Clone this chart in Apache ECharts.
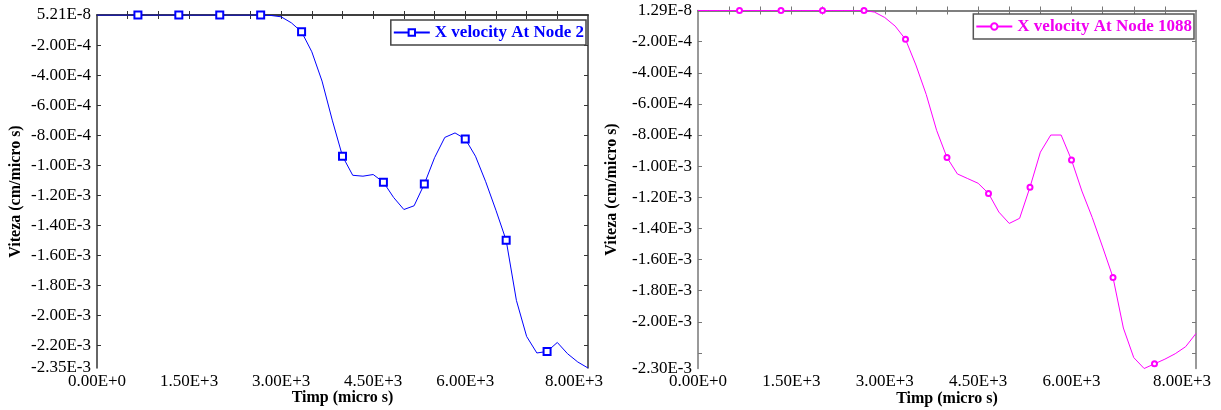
<!DOCTYPE html>
<html>
<head>
<meta charset="utf-8">
<title>X velocity</title>
<script src="https://cdn.jsdelivr.net/npm/echarts@6.0.0/dist/echarts.min.js"></script>
<style>
  html, body { margin: 0; padding: 0; background: #fff; }
  #main { width: 1221px; height: 410px; }
</style>
</head>
<body>
<div id="main"></div>
<script>
// time samples (micro s)
var times = [0, 166.7, 333.3, 500, 666.7, 833.3, 1000, 1166.7, 1333.3, 1500, 1666.7, 1833.3,
  2000, 2166.7, 2333.3, 2500, 2666.7, 2833.3, 3000, 3166.7, 3333.3, 3500, 3666.7, 3833.3,
  4000, 4166.7, 4333.3, 4500, 4666.7, 4833.3, 5000, 5166.7, 5333.3, 5500, 5666.7, 5833.3,
  6000, 6166.7, 6333.3, 6500, 6666.7, 6833.3, 7000, 7166.7, 7333.3, 7500, 7666.7, 7833.3, 8000];

// samples drawn with a marker
var markerTimes = [666.7, 1333.3, 2000, 2666.7, 3333.3, 4000, 4666.7, 5333.3, 6000, 6666.7, 7333.3];

// X velocity at node 2 (cm/micro s)
var velNode2 = [5.21e-8, 5.21e-8, 5.21e-8, 5.21e-8, 5.21e-8, 5.21e-8, 5.21e-8, 5.21e-8, 5.21e-8,
  5.21e-8, 5.21e-8, 5.21e-8, 5.21e-8, 5.21e-8, 5.21e-8, 5.21e-8, 5.21e-8,
  -0.000003, -0.000012, -0.000052, -0.000112, -0.000245, -0.00044, -0.0007,
  -0.00094, -0.001067, -0.001073, -0.001062, -0.001113, -0.001215, -0.001295, -0.00127,
  -0.001125, -0.00095, -0.000815, -0.000785, -0.000825, -0.00094, -0.00111, -0.0013,
  -0.0015, -0.0019, -0.00214, -0.00225, -0.00224, -0.00218, -0.002255, -0.00231, -0.00235];

// X velocity at node 1088 (cm/micro s)
var velNode1088 = [1.29e-8, 1.29e-8, 1.29e-8, 1.29e-8, 1.29e-8, 1.29e-8, 1.29e-8, 1.29e-8, 1.29e-8,
  1.29e-8, 1.29e-8, 1.29e-8, 1.29e-8, 1.29e-8, 1.29e-8, 1.29e-8, 1.29e-8,
  -0.00001, -0.000045, -0.0001, -0.000185, -0.00035, -0.00054, -0.00077,
  -0.000945, -0.00105, -0.00108, -0.00111, -0.001175, -0.001295, -0.001368, -0.001335,
  -0.001135, -0.00091, -0.0008, -0.0008, -0.00096, -0.00116, -0.00133, -0.00152,
  -0.001715, -0.00204, -0.00223, -0.0023, -0.00227, -0.00224, -0.002205, -0.00216, -0.002075];

// axis ticks / labels
var xLabelValues = [0, 1500, 3000, 4500, 6000, 8000];
var xTickValues = [500, 1000, 1500, 2000, 2500, 3000, 3500, 4000, 4500, 5000, 5500, 6000, 6500, 7000, 7500];
var yTickValues = [-0.0002, -0.0004, -0.0006, -0.0008, -0.001, -0.0012, -0.0014, -0.0016,
  -0.0018, -0.002, -0.0022];
var yLabelsLeft = [5.21e-8, -0.0002, -0.0004, -0.0006, -0.0008, -0.001, -0.0012, -0.0014,
  -0.0016, -0.0018, -0.002, -0.0022, -0.00235];
var yLabelsRight = [1.29e-8, -0.0002, -0.0004, -0.0006, -0.0008, -0.001, -0.0012, -0.0014,
  -0.0016, -0.0018, -0.002, -0.0023];

var FONT = 'Liberation Serif';

function sci(v) {
  return Number(v).toExponential(2).toUpperCase();
}

// last x label sits a bit left of the axis end, like the original
function xFmt(v) {
  if (v === 8000) return '{end|' + sci(v) + '}';
  return sci(v);
}

function buildData(vel) {
  return times.map(function (t, i) {
    var item = { value: [t, vel[i]] };
    if (markerTimes.indexOf(t) < 0) item.symbol = 'none';
    return item;
  });
}

function xAxes(grid, lineColor) {
  var base = {
    type: 'value', gridIndex: grid, min: 0, max: 8000,
    splitLine: { show: false },
    axisLine: { lineStyle: { color: lineColor, width: 1.5 } },
    axisTick: { inside: true, length: 4, customValues: xTickValues, lineStyle: { color: lineColor } }
  };
  return [
    Object.assign({}, base, {
      position: 'bottom',
      name: 'Timp (micro s)', nameLocation: 'middle', nameGap: 22, nameMoveOverlap: false,
      nameTextStyle: { fontFamily: FONT, fontWeight: 'bold', fontSize: 16, color: '#000' },
      axisLabel: { customValues: xLabelValues, formatter: xFmt, margin: 5,
        fontFamily: FONT, fontSize: 17, color: '#000',
        rich: { end: { fontFamily: FONT, fontSize: 17, color: '#000', padding: [0, 28, 0, 0] } } }
    }),
    Object.assign({}, base, { position: 'top', axisLabel: { show: false } })
  ];
}

function yAxes(grid, minV, maxV, labels, lineColor, gap) {
  var base = {
    type: 'value', gridIndex: grid, min: minV, max: maxV,
    splitLine: { show: false },
    axisLine: { onZero: false, lineStyle: { color: lineColor, width: 1.5 } },
    axisTick: { inside: true, length: 4, customValues: yTickValues, lineStyle: { color: lineColor } }
  };
  return [
    Object.assign({}, base, {
      position: 'left',
      name: 'Viteza (cm/micro s)', nameLocation: 'middle', nameGap: gap, nameRotate: 90,
      nameMoveOverlap: false,
      nameTextStyle: { fontFamily: FONT, fontWeight: 'bold', fontSize: 16, color: '#000' },
      axisLabel: { customValues: labels, formatter: sci, margin: 6,
        fontFamily: FONT, fontSize: 17, color: '#000' }
    }),
    Object.assign({}, base, { position: 'right', axisLabel: { show: false } })
  ];
}

var chart = echarts.init(document.getElementById('main'));

var option = {
  animation: false,
  backgroundColor: '#fff',
  grid: [
    { left: 97, top: 15, width: 491, height: 353, outerBoundsMode: 'none' },
    { left: 698, top: 10.5, width: 498, height: 358, outerBoundsMode: 'none' }
  ],
  legend: [
    {
      data: ['X velocity At Node 2'], right: 635, top: 20,
      itemWidth: 36, itemHeight: 8, padding: [4, 2, 4, 2],
      borderColor: '#444', borderWidth: 1.5, backgroundColor: '#fff',
      textStyle: { fontFamily: FONT, fontWeight: 'bold', fontSize: 17, color: '#0000ff' }
    },
    {
      data: ['X velocity At Node 1088'], right: 27, top: 14,
      itemWidth: 36, itemHeight: 8, padding: [4, 2, 4, 2],
      borderColor: '#555', borderWidth: 1.5, backgroundColor: '#fff',
      textStyle: { fontFamily: FONT, fontWeight: 'bold', fontSize: 17, color: '#f000f0' }
    }
  ],
  xAxis: xAxes(0, '#333').concat(xAxes(1, '#777')),
  yAxis: yAxes(0, -0.00235, 5.21e-8, yLabelsLeft, '#333', 73)
    .concat(yAxes(1, -0.0023, 1.29e-8, yLabelsRight, '#777', 78)),
  series: [
    {
      name: 'X velocity At Node 2', type: 'line',
      xAxisIndex: 0, yAxisIndex: 0,
      symbol: 'emptyRect', symbolSize: 7,
      itemStyle: { color: '#0000ff', borderWidth: 1 },
      lineStyle: { color: '#0000ff', width: 1 },
      data: buildData(velNode2)
    },
    {
      name: 'X velocity At Node 1088', type: 'line',
      xAxisIndex: 2, yAxisIndex: 2,
      symbol: 'emptyCircle', symbolSize: 5,
      itemStyle: { color: '#ff00ff', borderWidth: 1 },
      lineStyle: { color: '#ff00ff', width: 1 },
      data: buildData(velNode1088)
    }
  ]
};

chart.setOption(option);
</script>
</body>
</html>
